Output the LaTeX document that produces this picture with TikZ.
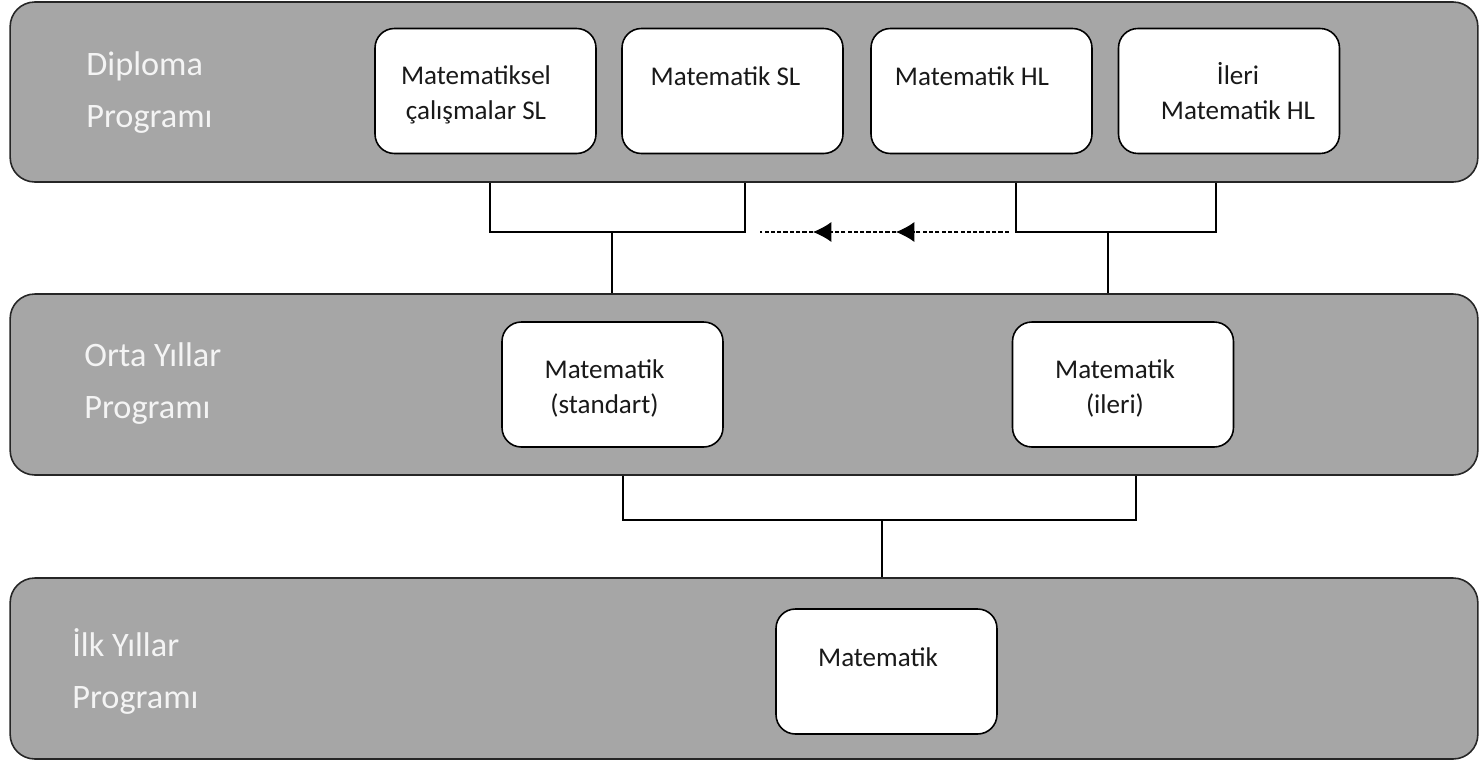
\documentclass[tikz,border=0pt]{standalone}
\usepackage{fontspec}
\setmainfont{Carlito}
\usetikzlibrary{arrows.meta}
\definecolor{bandgray}{HTML}{A6A6A6}
\definecolor{labelwhite}{HTML}{F4F4F4}
\tikzstyle{band}=[draw=black!85, fill=bandgray, rounded corners=14pt, line width=0.9pt, minimum width=29.36cm, minimum height=3.6cm]
\tikzstyle{pbox}=[draw=black, fill=white, rounded corners=11pt, line width=0.9pt, minimum width=4.42cm, minimum height=2.5cm]
\tikzstyle{btext}=[inner sep=0pt, anchor=base, align=center, text=black!90, font=\fontsize{15.4}{19.5}\selectfont]
\tikzstyle{ltext}=[inner sep=0pt, anchor=base west, align=left, text=labelwhite, font=\fontsize{19.5}{29.5}\selectfont]
\tikzstyle{conn}=[line width=0.7pt]
\tikzstyle{dline}=[line width=0.6pt, dash pattern=on 2.4pt off 1.2pt]
\tikzset{>={Latex[length=10.5pt,width=11.5pt]}}

\begin{document}
\begin{tikzpicture}[x=0.02cm, y=-0.02cm]
\useasboundingbox (0,0) rectangle (1482,761);
% the three programme bands
\node[band] (dp) at (744,92) {};
\node[band, minimum height=3.62cm] (oy) at (744,384.5) {};
\node[band, minimum height=3.62cm] (iy) at (744,668.5) {};
\node[ltext] (dpl) at (86,127) {Diploma\\Programı};
\node[ltext] (oyl) at (84,418) {Orta Yıllar\\Programı};
\node[ltext] (iyl) at (72,708) {İlk Yıllar\\Programı};
% the ``upper'' four courses
\node[pbox] (b1) at (485.5,91) {};
\node[pbox] (b2) at (732.5,91) {};
\node[pbox] (b3) at (981.5,91) {};
\node[pbox] (b4) at (1229,91) {};
\node[btext] (t1) at (476,119) {Matematiksel\\çalışmalar SL};
\node[btext] (t2) at (725.5,85) {Matematik SL};
\node[btext] (t3) at (972,85) {Matematik HL};
\node[btext] (t4) at (1238,119) {İleri\\Matematik HL};
% the middle two courses
\node[pbox] (m1) at (612.5,384.5) {};
\node[pbox] (m2) at (1123,384.5) {};
\node[btext] (tm1) at (604.5,413) {Matematik\\(standart)};
\node[btext] (tm2) at (1115,413) {Matematik\\(ileri)};
% the lower course
\node[pbox] (l1) at (886.5,671.5) {};
\node[btext] (tl1) at (878,666) {Matematik};
% the junctions
\coordinate (ja) at (490,232);
\coordinate (jb) at (745,232);
\coordinate (jc) at (612,232);
\coordinate (jd) at (1016,232);
\coordinate (je) at (1216,232);
\coordinate (jf) at (1108,232);
\coordinate (jg) at (623,520);
\coordinate (jh) at (1136,520);
\coordinate (ji) at (882,520);
% the edges
\draw[conn] (ja |- dp.south) -- (ja) -- (jb) -- (jb |- dp.south);
\draw[conn] (jc) -- (jc |- oy.north);
\draw[conn] (jd |- dp.south) -- (jd) -- (je) -- (je |- dp.south);
\draw[conn] (jf) -- (jf |- oy.north);
\draw[conn] (jg |- oy.south) -- (jg) -- (jh) -- (jh |- oy.south);
\draw[conn] (ji) -- (ji |- iy.north);
% the dashed arrows
\coordinate (da) at (1009,232);
\coordinate (db) at (896,232);
\coordinate (dc) at (813,232);
\coordinate (dd) at (760,232);
\draw[dline, ->] (da) -- (db);
\draw[dline, ->] (db) -- (dc);
\draw[dline] (dc) -- (dd);
\end{tikzpicture}
\end{document}
